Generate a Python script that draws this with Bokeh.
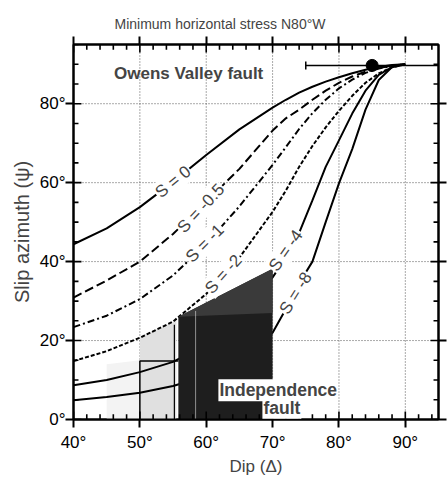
import math
from bokeh.plotting import figure
from bokeh.models import LinearAxis, FixedTicker, Label, Range1d
from bokeh.embed import file_html
from bokeh.resources import INLINE

# ---------------- data ----------------
dip = [40, 45, 50, 55, 60, 65, 70, 72, 74, 76, 78, 80, 82, 84, 86, 88, 90]
psi_s0 = [44.4, 48.4, 53.8, 60.2, 67.0, 73.5, 79.0, 81.0, 82.8, 84.3, 85.6, 86.7, 87.7, 88.6, 89.3, 89.8, 90.0]
psi_s05 = [30.9, 35.2, 40.0, 47.0, 55.2, 63.5, 73.2, 76.3, 78.5, 81.0, 83.3, 85.3, 86.9, 88.1, 89.0, 89.7, 90.0]
psi_s1 = [23.4, 26.3, 30.5, 36.5, 44.5, 54.0, 64.5, 69.0, 73.6, 77.6, 81.0, 83.9, 86.1, 87.8, 88.9, 89.6, 90.0]
psi_s2 = [14.8, 17.3, 20.7, 24.8, 31.8, 41.0, 52.6, 58.0, 64.0, 69.3, 74.0, 78.2, 82.0, 85.3, 87.7, 89.2, 90.0]
psi_s4 = [8.7, 10.0, 12.0, 14.6, 19.0, 26.0, 36.0, 41.0, 47.3, 55.5, 64.0, 70.7, 77.5, 83.3, 87.3, 89.3, 90.0]
psi_s8 = [4.9, 5.7, 6.8, 8.5, 11.0, 15.0, 22.0, 28.0, 34.5, 40.0, 50.0, 59.8, 68.5, 78.5, 86.0, 89.3, 90.0]

curve_names = ["S = 0", "S = -0.5", "S = -1", "S = -2", "S = -4", "S = -8"]
curve_values = [psi_s0, psi_s05, psi_s1, psi_s2, psi_s4, psi_s8]

# Owens Valley fault
owens_dip = 85.0
owens_dip_err = 10.0
owens_psi = 89.7

# Independence fault ranges
indep_faint_dip = [45, 45, 50, 50]
indep_faint_psi = [0, 14, 15, 0]
indep_light_dip = [50, 50, 55.5, 55.5]
indep_light_psi = [0, 21, 25, 0]
indep_box_dip = [50, 50, 55.8]
indep_box_psi = [0, 14.8, 14.8]
indep_edge_dip = [55.2, 55.2]
indep_edge_psi = [0, 24]
indep_dark_dip = [55.8, 55.8, 70, 70]
indep_dark_psi = [0, 26, 38.2, 0]
indep_upper_dip = [55.8, 70, 70]
indep_upper_psi = [26, 38.2, 27]
indep_mid_dip = [58.4, 58.4]
indep_mid_psi = [0, 27.5]

x_ticks = [40, 50, 60, 70, 80, 90]
x_tick_labels = ["40°", "50°", "60°", "70°", "80°", "90°"]
x_minor = [42, 44, 46, 48, 52, 54, 56, 58, 62, 64, 66, 68, 72, 74, 76, 78, 82, 84, 86, 88, 92, 94]
y_ticks = [0, 20, 40, 60, 80]
y_tick_labels = ["0°", "20°", "40°", "60°", "80°"]
y_minor = [5, 10, 15, 25, 30, 35, 45, 50, 55, 65, 70, 75, 85, 90, 95]

x_lo, x_hi = 40, 95
y_lo, y_hi = 0, 95

# ---------------- style ----------------
FONT = "Liberation Sans"
dashes = ["solid", "9 4", "7 3 2 3", "4 2", "solid", "solid"]
label_pos = [(55.0, 60.2, 39), (59.2, 53.5, 47), (59.8, 44.6, 45),
             (62.6, 36.8, 48), (72.0, 42.8, 55), (73.5, 32.0, 58)]
# inward tick lengths (in axis units: ~8 px major, ~5 px minor)
TLX_MAJ, TLX_MIN = 2.0, 1.3     # vertical ticks, psi units
TLY_MAJ, TLY_MIN = 1.2, 0.75    # horizontal ticks, dip units

p = figure(width=447, height=479, x_range=Range1d(x_lo, x_hi), y_range=Range1d(y_lo, y_hi),
           output_backend="svg", toolbar_location=None,
           min_border_left=73, min_border_right=9, min_border_top=44, min_border_bottom=60)
p.background_fill_color = "white"
p.outline_line_color = "black"
p.outline_line_width = 2

p.title.text = "Minimum horizontal stress N80°W"
p.title.align = "left"
p.title.offset = 41
p.title.text_font = FONT
p.title.text_font_size = "14px"
p.title.text_font_style = "normal"
p.title.standoff = 10

def style_axis(ax, ticks, minor, labels=None):
    ax.ticker = FixedTicker(ticks=ticks, minor_ticks=minor)
    ax.axis_line_width = 2
    ax.axis_line_color = "black"
    ax.major_tick_line_color = "black"
    ax.minor_tick_line_color = "black"
    ax.major_tick_line_width = 2
    ax.minor_tick_line_width = 2
    ax.major_tick_in = 0
    ax.major_tick_out = 8
    ax.minor_tick_in = 0
    ax.minor_tick_out = 0
    ax.major_label_text_font = FONT
    ax.major_label_text_font_size = "17px"
    ax.major_label_text_color = "black"
    if labels is None:
        ax.major_label_overrides = {t: "" for t in ticks}
        ax.major_label_standoff = 0
    else:
        ax.major_label_overrides = dict(zip(ticks, labels))

xb = p.xaxis[0]
style_axis(xb, x_ticks, x_minor, x_tick_labels)
xb.major_label_standoff = 5
xb.axis_label = "Dip (Δ)"
xb.axis_label_text_font = FONT
xb.axis_label_text_font_size = "17px"
xb.axis_label_text_font_style = "normal"
xb.axis_label_standoff = 2

yl = p.yaxis[0]
style_axis(yl, y_ticks, y_minor, y_tick_labels)
yl.major_label_standoff = 0
yl.axis_label = "Slip azimuth (ψ)"
yl.axis_label_text_font = FONT
yl.axis_label_text_font_size = "20px"
yl.axis_label_text_font_style = "normal"
yl.axis_label_standoff = 4

xt = LinearAxis()
style_axis(xt, x_ticks, x_minor)
p.add_layout(xt, "above")
yr = LinearAxis()
style_axis(yr, y_ticks, y_minor)
p.add_layout(yr, "right")

# dotted grid drawn as glyphs at the major tick values
p.xgrid.visible = False
p.ygrid.visible = False
p.segment(x0=x_ticks, y0=[y_lo] * len(x_ticks), x1=x_ticks, y1=[y_hi] * len(x_ticks),
          line_color="#555555", line_width=1, line_dash="1 2")
p.segment(x0=[x_lo] * len(y_ticks), y0=y_ticks, x1=[x_hi] * len(y_ticks), y1=y_ticks,
          line_color="#555555", line_width=1, line_dash="1 2")

# light shading (behind curves)
p.patch(indep_faint_dip, indep_faint_psi, fill_color="#f3f3f3", line_color=None)
p.patch(indep_light_dip, indep_light_psi, fill_color="#e0e0e0", line_color=None)
p.line(indep_box_dip, indep_box_psi, line_color="black", line_width=1.5)
p.line(indep_edge_dip, indep_edge_psi, line_color="black", line_width=1.2)

# curves
for vals, dash in zip(curve_values, dashes):
    p.line(dip, vals, line_color="black", line_width=2, line_dash=dash)

# dark shading (on top of curves)
p.patch(indep_dark_dip, indep_dark_psi, fill_color="#1e1e1e", line_color=None)
p.patch(indep_upper_dip, indep_upper_psi, fill_color="#3a3a3a", line_color=None)
p.line(indep_mid_dip, indep_mid_psi, line_color="white", line_width=1, line_alpha=0.5)

# Owens Valley fault
p.segment(x0=[owens_dip - owens_dip_err], y0=[owens_psi], x1=[owens_dip + owens_dip_err], y1=[owens_psi],
          line_color="black", line_width=1.5)
p.scatter([owens_dip - owens_dip_err], [owens_psi], marker="dash", size=8, angle=math.pi / 2,
          line_color="black", line_width=1.5)
p.scatter([owens_dip], [owens_psi], marker="circle", size=12, fill_color="black", line_color="black")

# inward frame tick marks on all four sides (segments at the tick values)
def vticks(vals, y0, length):
    p.segment(x0=vals, y0=[y0] * len(vals), x1=vals, y1=[y0 + length] * len(vals),
              line_color="black", line_width=1.6)

def hticks(vals, x0, length):
    p.segment(x0=[x0] * len(vals), y0=vals, x1=[x0 + length] * len(vals), y1=vals,
              line_color="black", line_width=1.6)

vticks(x_ticks, y_lo, TLX_MAJ)
vticks(x_minor, y_lo, TLX_MIN)
vticks(x_ticks, y_hi, -TLX_MAJ)
vticks(x_minor, y_hi, -TLX_MIN)
hticks(y_ticks, x_lo, TLY_MAJ)
hticks(y_minor, x_lo, TLY_MIN)
hticks(y_ticks, x_hi, -TLY_MAJ)
hticks(y_minor, x_hi, -TLY_MIN)

# curve labels
for name, (lx, ly, ang) in zip(curve_names, label_pos):
    p.add_layout(Label(x=lx, y=ly, text=name, angle=math.radians(ang),
                       text_align="center", text_baseline="middle",
                       text_font=FONT, text_font_size="17px",
                       background_fill_color="white", padding=1))

p.add_layout(Label(x=46.1, y=87.6, text="Owens Valley fault", text_align="left",
                   text_baseline="alphabetic", text_font=FONT, text_font_size="17px",
                   text_font_style="bold"))
p.add_layout(Label(x=70.85, y=7.4, text="Independence", text_align="center",
                   text_baseline="alphabetic", text_font=FONT, text_font_size="17.5px",
                   text_font_style="bold", background_fill_color="white", padding=1))
p.add_layout(Label(x=71.4, y=3.0, text="fault", text_align="center",
                   text_baseline="alphabetic", text_font=FONT, text_font_size="17.5px",
                   text_font_style="bold", background_fill_color="white", padding=1))

open("out.html", "w").write(file_html(p, INLINE))
